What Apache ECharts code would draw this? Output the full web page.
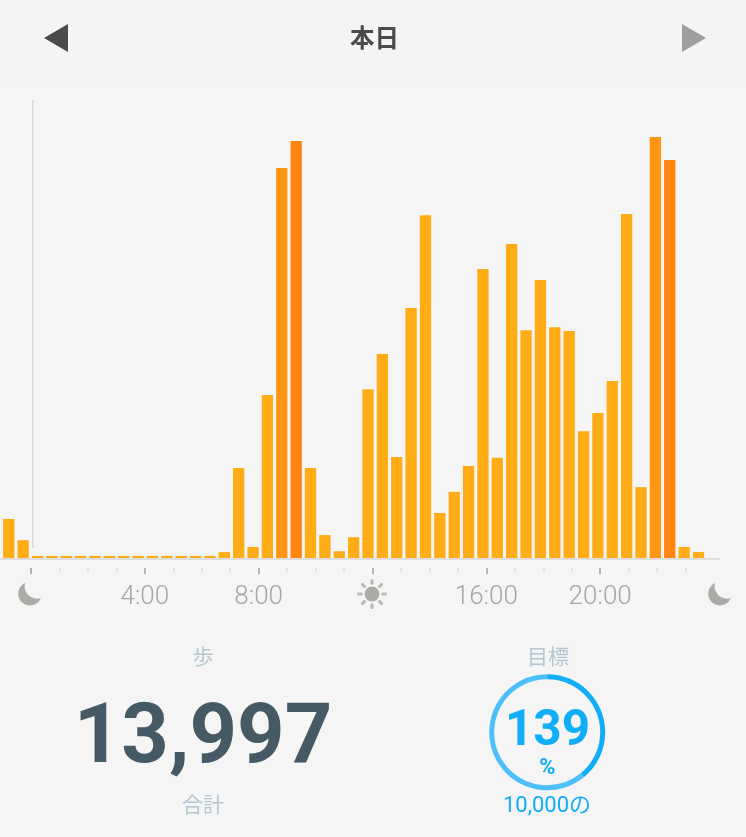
<!DOCTYPE html>
<html><head><meta charset="utf-8">
<style>html,body{margin:0;padding:0;background:#f5f5f5}#c{width:746px;height:837px}</style>
<script src="https://cdn.jsdelivr.net/npm/echarts@6/dist/echarts.min.js"></script>
</head><body><div id="c"></div>
<script>
const categories = ['23:00','23:30','0:00','0:30','1:00','1:30','2:00','2:30','3:00','3:30','4:00','4:30','5:00','5:30','6:00','6:30','7:00','7:30','8:00','8:30','9:00','9:30','10:00','10:30','11:00','11:30','12:00','12:30','13:00','13:30','14:00','14:30','15:00','15:30','16:00','16:30','17:00','17:30','18:00','18:30','19:00','19:30','20:00','20:30','21:00','21:30','22:00','22:30','23:00b'];
const steps = [92,42,5,5,5,5,5,5,5,5,5,5,5,5,5,14,212,26,384,919,983,212,54,16,49,398,481,238,589,808,106,156,217,681,236,740,537,655,544,535,299,342,417,811,167,992,938,26,14];
const midBars = [19,45];
const peakBars = [20,46];
const hourTicks = [0,1,2,3,5,6,7,9,10,11,13,14,15,17,18,19,21,22,23];
const majorTicks = [0,4,8,12,16,20];
const timeLabels = [4,8,16,20];
const goalDone = 39, goalRest = 61;

const C = {base:'#FFAC16', mid:'#FF9513', peak:'#FF8410', gray:'#ABAAA5', pale:'#B4C6CF', blue:'#12ADF9', light:'#4DC0FC', dark:'#465A66'};
const JP = '"Noto Sans CJK JP"';
function txt(x,y,s,size,fill,weight,family){return {type:'text',z:5,style:{x,y,text:s,fontSize:size,fill,fontWeight:weight||'normal',fontFamily:family||JP,align:'center',verticalAlign:'middle'}};}
echarts.graphic.registerShape('moonIcon', echarts.graphic.extendPath('M7 0 A11.8 11.8 0 1 0 23 15 A12.5 12.5 0 0 1 7 0 Z',{}));
function moonAt(x,y){return {type:'moonIcon',z:5,x,y,style:{fill:C.gray}};}
const sun = [{type:'circle',z:5,shape:{cx:372,cy:594,r:7.4},style:{fill:C.gray}}];
for(let a=0;a<8;a++){const t=a*Math.PI/4;sun.push({type:'line',z:5,shape:{x1:372+10.8*Math.cos(t),y1:594+10.8*Math.sin(t),x2:372+13.5*Math.cos(t),y2:594+13.5*Math.sin(t)},style:{stroke:'#B8B7B3',lineWidth:3,lineCap:'round'}});}

const chart = echarts.init(document.getElementById('c'),null,{renderer:'canvas'});
chart.setOption({
  animation:false,
  backgroundColor:'#F5F5F5',
  grid:[
    {left:1.58,width:704.1,top:133.7,height:424.3},
    {left:31,width:683,top:538,height:30}
  ],
  xAxis:[
    {type:'category',gridIndex:0,data:categories,axisLine:{show:false},axisTick:{show:false},axisLabel:{show:false}},
    {type:'value',gridIndex:1,min:0,max:24,position:'bottom',splitLine:{show:false},axisLine:{show:false},
      axisTick:{show:true,length:4,lineStyle:{color:'#DEDEDE',width:1.5},customValues:hourTicks},axisLabel:{show:false}},
    {type:'value',gridIndex:1,min:0,max:24,position:'bottom',splitLine:{show:false},axisLine:{show:false},
      axisTick:{show:true,length:6,lineStyle:{color:'#A0A0A0',width:1.5},customValues:majorTicks},
      axisLabel:{show:true,margin:16,customValues:timeLabels,color:'#A6A5A0',fontSize:26,fontWeight:300,fontFamily:'Roboto',formatter:v=>v+':00'}}
  ],
  yAxis:[
    {type:'value',gridIndex:0,min:0,max:1000,show:false},
    {type:'value',gridIndex:1,min:0,max:1,show:false}
  ],
  series:[
    {type:'bar',xAxisIndex:0,yAxisIndex:0,barWidth:11.3,silent:true,
     data:steps.map((v,i)=>({value:v,itemStyle:{color:peakBars.includes(i)?C.peak:midBars.includes(i)?C.mid:C.base}}))},
    {type:'pie',center:[547.2,732.2],radius:[53,58],startAngle:90,silent:true,label:{show:false},labelLine:{show:false},
     data:[{value:goalDone,itemStyle:{color:C.blue}},{value:goalRest,itemStyle:{color:C.light}}]}
  ],
  graphic:{elements:[
    {type:'rect',z:-1,shape:{x:0,y:0,width:746,height:82},style:{fill:'#F5F3F4'}},
    {type:'polygon',z:5,shape:{points:[[44,38],[68,24],[68,52]]},style:{fill:'#4A4A48'}},
    {type:'polygon',z:5,shape:{points:[[682,24],[706,38],[682,52]]},style:{fill:'#9E9E9E'}},
    txt(374.5,37.5,'本日',24.5,'#4A4A4A','bold'),
    {type:'line',z:1,shape:{x1:32.75,y1:100,x2:32.75,y2:548},style:{stroke:'#D8D8D8',lineWidth:1.5}},
    {type:'line',z:1,shape:{x1:0,y1:559,x2:720,y2:559},style:{stroke:'#DEDEDE',lineWidth:2}},
    moonAt(18,583), moonAt(708,583),
    ...sun,
    txt(203,656,'歩',21,C.pale),
    txt(203,741,'13,997',83,C.dark,'bold','Roboto'),
    txt(203,804,'合計',21,C.pale),
    txt(548,656,'目標',21,C.pale),
    txt(547.5,733,'139',49.5,C.blue,'bold','Roboto'),
    txt(547.5,768,'%',22,C.blue,'bold','Roboto'),
    txt(547,806,'10,000の',22,C.blue,'normal','Roboto, '+JP)
  ]}
});
</script></body></html>
